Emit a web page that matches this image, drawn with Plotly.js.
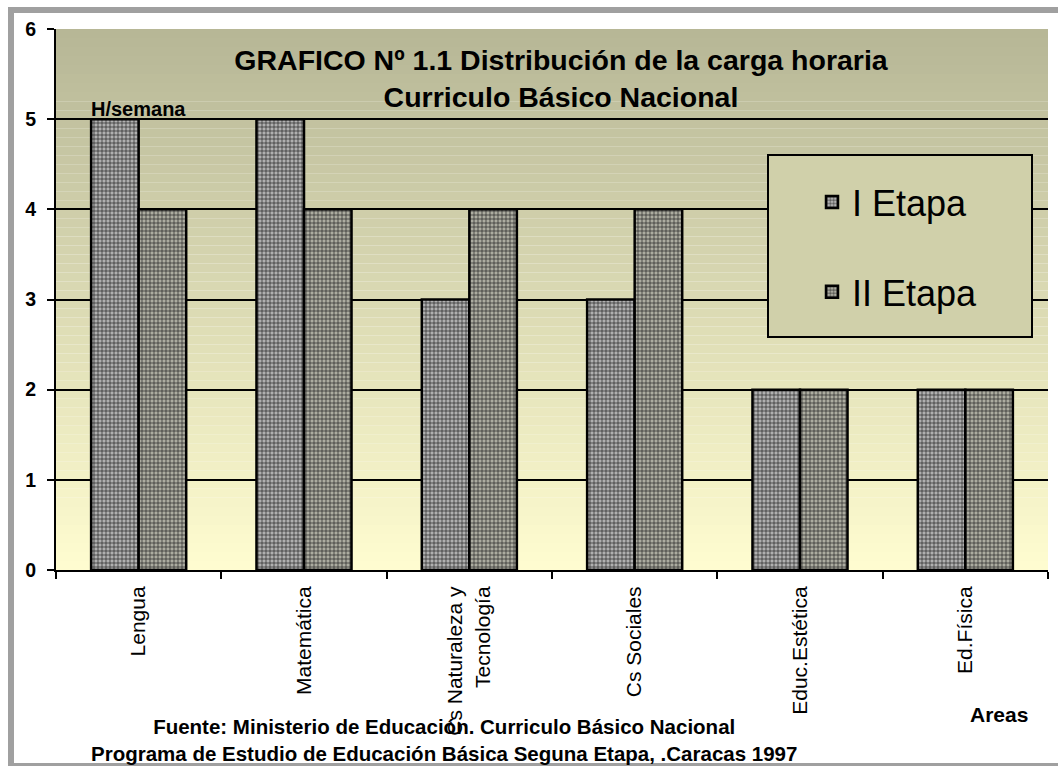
<!DOCTYPE html>
<html>
<head>
<meta charset="utf-8">
<script src="https://cdn.plot.ly/plotly-3.0.1.min.js"></script>
<style>
  html, body { margin: 0; padding: 0; background: #ffffff; }
  #chart { width: 1058px; height: 766px; }
</style>
</head>
<body>
<div id="chart"></div>
<script>
// ---- data ----
const categories = ["Lengua", "Matemática", "Cs Naturaleza y<br>Tecnología", "Cs Sociales", "Educ.Estética", "Ed.Física"];
const etapaI  = [5, 5, 3, 3, 2, 2];
const etapaII = [4, 4, 4, 4, 2, 2];
const seriesNames = ["I Etapa", "II Etapa"];
const yTicks = [0, 1, 2, 3, 4, 5, 6];

// ---- geometry helpers (pixel -> paper) ----
const W = 1058, H = 766;
const M = {l: 56, r: 10, t: 29, b: 196};
const PW = W - M.l - M.r, PH = H - M.t - M.b;
const px = x => (x - M.l) / PW;
const py = y => (H - M.b - y) / PH;

const FONT = '"Liberation Sans", Arial, sans-serif';

// gradient background of the plot area
function hex(c) { return Math.round(c).toString(16).padStart(2, '0'); }
const gradTop = [182, 182, 150], gradBot = [255, 253, 208];
const shapes = [];
const N = 60;
for (let i = 0; i < N; i++) {
  const t = (i + 0.5) / N; // 0 at bottom
  const c = gradBot.map((b, k) => b + (gradTop[k] - b) * t);
  shapes.push({type: 'rect', xref: 'paper', yref: 'paper', layer: 'below',
    x0: 0, x1: 1, y0: i / N, y1: (i + 1) / N,
    line: {width: 0}, fillcolor: '#' + c.map(hex).join('')});
}
// legend box
shapes.push({type: 'rect', xref: 'paper', yref: 'paper', layer: 'above',
  x0: px(768), x1: px(1032), y0: py(337), y1: py(155),
  line: {color: '#000000', width: 2}, fillcolor: '#d0d0aa'});
// outer sheet frame (grey strips)
const frame = '#a0a0a0';
shapes.push({type: 'rect', xref: 'paper', yref: 'paper', layer: 'above',
  x0: px(8), x1: px(14), y0: py(766), y1: py(7), line: {width: 0}, fillcolor: frame});
shapes.push({type: 'rect', xref: 'paper', yref: 'paper', layer: 'above',
  x0: px(8), x1: px(1058), y0: py(13), y1: py(7), line: {width: 0}, fillcolor: frame});
shapes.push({type: 'rect', xref: 'paper', yref: 'paper', layer: 'above',
  x0: px(8), x1: px(1058), y0: py(766), y1: py(763), line: {width: 0}, fillcolor: frame});

const traces = [
  {type: 'bar', name: seriesNames[0], x: categories, y: etapaI, legendgroup: 'a',
   marker: {color: '#a8a8a8', line: {color: '#000000', width: 2.5},
            pattern: {shape: '+', size: 4, solidity: 0.3, fgcolor: '#1e1e1e', bgcolor: '#b0b0b0'}}},
  {type: 'bar', name: seriesNames[1], x: categories, y: etapaII, legendgroup: 'b',
   marker: {color: '#a4a498', line: {color: '#000000', width: 2.5},
            pattern: {shape: '+', size: 4, solidity: 0.3, fgcolor: '#1e1e1e', bgcolor: '#acaca0'}}}
];

const layout = {
  width: W, height: H,
  margin: M,
  paper_bgcolor: '#ffffff',
  plot_bgcolor: 'rgba(0,0,0,0)',
  font: {family: FONT, color: '#000000'},
  barmode: 'group',
  bargap: 0.425,
  bargroupgap: 0,
  showlegend: true,
  title: {
    text: '<b>GRAFICO Nº 1.1 Distribución de la carga horaria<br>Curriculo Básico Nacional</b>',
    font: {family: FONT, size: 28.5, color: '#000000'},
    x: 561 / W, xanchor: 'center', xref: 'container',
    y: 1 - 70 / H, yanchor: 'middle', yref: 'container'
  },
  xaxis: {
    type: 'category',
    tickson: 'boundaries',
    ticks: 'outside', ticklen: 7, tickwidth: 2, tickcolor: '#000000',
    tickangle: -90,
    tickfont: {family: FONT, size: 21, color: '#000000'},
    ticklabelstandoff: 6,
    showline: true, linecolor: '#000000', linewidth: 2,
    showgrid: false, zeroline: false,
    fixedrange: true
  },
  yaxis: {
    range: [0, 6],
    tickvals: yTicks,
    ticktext: yTicks.map(v => '<b>' + v + '</b>'),
    ticks: 'outside', ticklen: 7, tickwidth: 2, tickcolor: '#000000',
    tickfont: {family: FONT, size: 19.5, color: '#000000', weight: 'bold'},
    ticklabelstandoff: 7,
    showline: true, linecolor: '#000000', linewidth: 2,
    showgrid: true, gridcolor: '#000000', gridwidth: 2,
    zeroline: false,
    fixedrange: true
  },
  legend: {
    x: px(812), xanchor: 'left',
    y: py(172), yanchor: 'top',
    bgcolor: 'rgba(0,0,0,0)', borderwidth: 0,
    font: {family: FONT, size: 36, color: '#000000'},
    traceorder: 'grouped',
    tracegroupgap: 40
  },
  shapes: shapes,
  annotations: [
    {text: '<b>H/semana</b>', xref: 'paper', yref: 'paper', x: px(89), y: py(109),
     xanchor: 'left', yanchor: 'middle', showarrow: false,
     font: {family: FONT, size: 20, color: '#000000'}},
    {text: '<b>Areas</b>', xref: 'paper', yref: 'paper', x: px(999), y: py(714),
     xanchor: 'center', yanchor: 'middle', showarrow: false,
     font: {family: FONT, size: 21, color: '#000000'}},
    {text: '<b>Fuente: Ministerio de Educación. Curriculo Básico Nacional<br>Programa de Estudio de Educación Básica Seguna Etapa, .Caracas 1997</b>',
     xref: 'paper', yref: 'paper', x: px(444), y: py(740),
     xanchor: 'center', yanchor: 'middle', showarrow: false,
     font: {family: FONT, size: 20.5, color: '#000000'}}
  ]
};

Plotly.newPlot('chart', traces, layout, {displayModeBar: false, staticPlot: true});
</script>
</body>
</html>
